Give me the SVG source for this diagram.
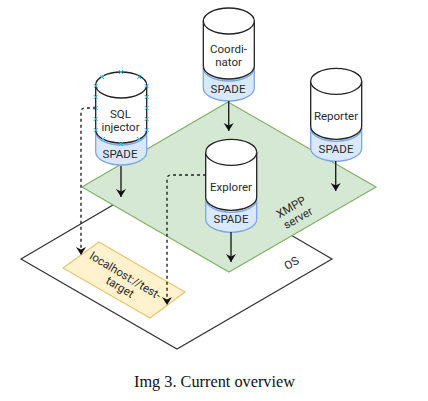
<svg xmlns="http://www.w3.org/2000/svg" xmlns:xlink="http://www.w3.org/1999/xlink" width="428" height="401" viewBox="0 0 428 401">
<style>
text{font-family:Roboto,"Liberation Sans",Arial,sans-serif;font-size:11.500px;fill:#2a2a2a;text-anchor:middle}
.cap{font-family:"Liberation Serif","Times New Roman",serif;font-size:16.300px;fill:#111}
.body{fill:#fff;stroke:#222;stroke-width:1.3}
.base{fill:#dae8fc;stroke:#7ea6e0;stroke-width:1.3}
.flow{fill:none;stroke:#222;stroke-width:1.4;marker-end:url(#ah)}
.dash{stroke-dasharray:3 3}
.h{fill:none;stroke:#29b6e8;stroke-width:1}
</style>
<defs>
<marker id="ah" markerUnits="userSpaceOnUse" markerWidth="12" markerHeight="12" refX="8" refY="5" orient="auto"><path d="M0 0L8 5L0 10L2.500 5Z" fill="#111"/></marker>
<path id="x" class="h" d="M-2 -2L2 2M-2 2L2 -2"/>
<g id="cyl">
<path class="base" d="M0 60V80C0 87 11.400 93 25.500 93S51 87 51 80V60Z"/>
<path class="base" d="M0 60C0 67 11.400 73 25.500 73S51 67 51 60"/>
<path class="body" d="M0 13V58C0 65 11.400 71 25.500 71S51 65 51 58V13C51 5.800 39.600 0 25.500 0S0 5.800 0 13Z"/>
<path class="body" fill="none" d="M0 13C0 20.200 11.400 26 25.500 26S51 20.200 51 13"/>
</g>
</defs>
<rect width="428" height="401" fill="#fff"/>
<g id="os"><path d="M176 168L332 259L177 349L21 259Z" fill="#fff" stroke="#333" stroke-width="1.200"/>
<text transform="translate(291.500 263) rotate(-30)" y="4">OS</text></g>
<g id="xmpp"><path d="M228 102L376 187L229 272L82 187Z" fill="#d5e8d4" stroke="#82b366" stroke-width="1.200"/>
<text transform="translate(291 207) rotate(-30)" y="4">XMPP</text><text transform="translate(298 218) rotate(-30)" y="4">server</text></g>
<g id="target"><path d="M63 268L99 242L185 292L150 318Z" fill="#fff2cc" stroke="#e6c471" stroke-width="1.200"/>
<text transform="translate(125.500 275.500) rotate(31)" y="4">localhost://test-</text><text transform="translate(120 287) rotate(31)" y="4">target</text></g>
<g id="coordinator"><use xlink:href="#cyl" href="#cyl" x="203.300" y="8"/><text x="228.500" y="53">Coordi-</text><text x="228.500" y="65.500">nator</text><text x="228" y="92.500">SPADE</text></g>
<g id="reporter"><use xlink:href="#cyl" href="#cyl" x="310.700" y="68.300"/><text x="336" y="120">Reporter</text><text x="336" y="153">SPADE</text></g>
<g id="injector"><use xlink:href="#cyl" href="#cyl" x="95.700" y="72"/><text x="120.500" y="118">SQL</text><text x="120.500" y="130.500">injector</text><text x="120" y="158">SPADE</text>
<g><use href="#x" x="121" y="72"/><use href="#x" x="102" y="77"/><use href="#x" x="139" y="77"/><use href="#x" x="95.700" y="86"/><use href="#x" x="146.700" y="86"/><use href="#x" x="95.700" y="97"/><use href="#x" x="146.700" y="97"/><use href="#x" x="95.700" y="108"/><use href="#x" x="146.700" y="108"/><use href="#x" x="95.700" y="119"/><use href="#x" x="146.700" y="119"/><use href="#x" x="95.700" y="130"/><use href="#x" x="146.700" y="130"/><use href="#x" x="103" y="139"/><use href="#x" x="139" y="139"/><use href="#x" x="121" y="144"/></g></g>
<g id="explorer"><use xlink:href="#cyl" href="#cyl" x="205.700" y="139.300"/><text x="231" y="191">Explorer</text><text x="231" y="223">SPADE</text></g>
<g id="connectors">
<path class="flow" d="M228.700 101V131"/>
<path class="flow" d="M335.700 161V191"/>
<path class="flow" d="M121 166V197"/>
<path class="flow" d="M231 232V262"/>
<path class="flow dash" d="M96 108H85Q81 108 81 112V255"/>
<path class="flow dash" d="M206 175H171Q167 175 167 179V305"/>
</g>
<text class="cap" x="214.500" y="387">Img 3. Current overview</text>
</svg>
